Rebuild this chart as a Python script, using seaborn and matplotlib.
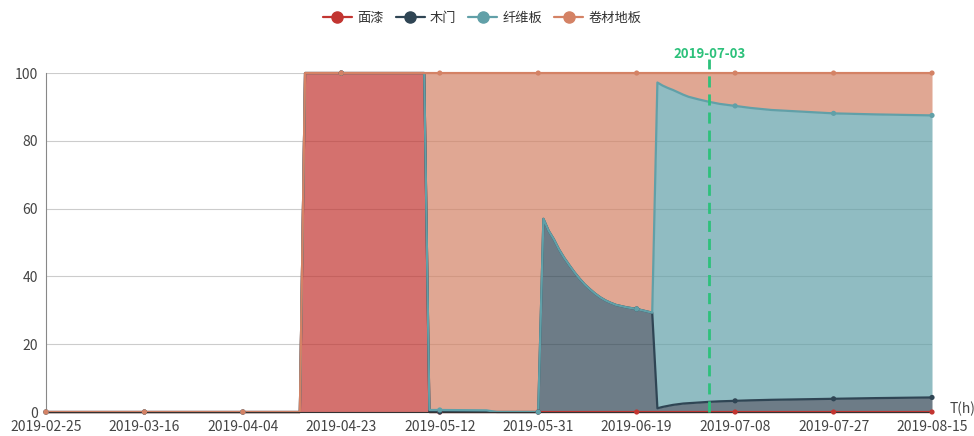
import matplotlib.pyplot as plt
import numpy as np
import pandas as pd
import seaborn as sns
from matplotlib.lines import Line2D

dates = ["2019-02-25", "2019-03-16", "2019-04-04", "2019-04-15", "2019-04-16",
         "2019-04-23", "2019-05-09", "2019-05-10", "2019-05-12", "2019-05-21",
         "2019-05-23", "2019-05-31",
         "2019-06-01", "2019-06-02", "2019-06-03", "2019-06-04", "2019-06-05",
         "2019-06-06", "2019-06-07", "2019-06-08", "2019-06-09", "2019-06-10",
         "2019-06-11", "2019-06-12", "2019-06-13", "2019-06-14", "2019-06-15",
         "2019-06-17", "2019-06-19", "2019-06-22",
         "2019-06-23", "2019-06-24", "2019-06-25", "2019-06-26", "2019-06-27",
         "2019-06-28", "2019-06-29", "2019-07-01", "2019-07-03", "2019-07-05",
         "2019-07-08", "2019-07-11", "2019-07-15", "2019-07-21", "2019-07-27",
         "2019-08-04", "2019-08-15"]

mianqi = [0, 0, 0, 0, 100, 100, 100, 0, 0, 0, 0, 0,
          0, 0, 0, 0, 0, 0, 0, 0, 0, 0, 0, 0, 0, 0, 0, 0, 0, 0,
          0, 0, 0, 0, 0, 0, 0, 0, 0, 0, 0, 0, 0, 0, 0, 0, 0]
mumen = [0, 0, 0, 0, 0, 0, 0, 0, 0, 0, 0, 0,
         57, 53.5, 51, 48, 45.5, 43.3, 41.2, 39.3, 37.6, 36.2, 34.9, 33.8,
         32.9, 32.2, 31.6, 30.9, 30.4, 29.3,
         1.1, 1.5, 1.8, 2.1, 2.3, 2.5, 2.6, 2.8, 3.0, 3.15, 3.3, 3.45, 3.6,
         3.75, 3.9, 4.1, 4.3]
xianweiban = [0, 0, 0, 0, 0, 0, 0, 0.6, 0.6, 0.5, 0, 0,
              0, 0, 0, 0, 0, 0, 0, 0, 0, 0, 0, 0, 0, 0, 0, 0, 0, 0,
              96.1, 94.8, 93.8, 92.9, 92.0, 91.1, 90.4, 89.4, 88.5, 87.75, 87.0,
              86.25, 85.5, 84.85, 84.2, 83.7, 83.2]
juancai = [0, 0, 0, 0, 0, 0, 0, 99.4, 99.4, 99.5, 100, 100,
           43, 46.5, 49, 52, 54.5, 56.7, 58.8, 60.7, 62.4, 63.8, 65.1, 66.2,
           67.1, 67.8, 68.4, 69.1, 69.6, 70.7,
           2.8, 3.7, 4.4, 5.0, 5.7, 6.4, 7.0, 7.8, 8.5, 9.1, 9.7, 10.3, 10.9,
           11.4, 11.9, 12.2, 12.5]

names = ["面漆", "木门", "纤维板", "卷材地板"]
colors = ["#c23531", "#2f4554", "#61a0a8", "#d48265"]
tick_dates = ["2019-02-25", "2019-03-16", "2019-04-04", "2019-04-23", "2019-05-12",
              "2019-05-31", "2019-06-19", "2019-07-08", "2019-07-27", "2019-08-15"]
mark_date = "2019-07-03"

sns.set_style("white")
plt.rcParams["font.family"] = ["Noto Sans CJK SC", "DejaVu Sans"]

x = pd.to_datetime(dates)
ticks = pd.to_datetime(tick_dates)
series = np.array([mianqi, mumen, xianweiban, juancai], dtype=float)
tops = np.cumsum(series, axis=0)
bottoms = np.vstack([np.zeros(len(dates)), tops[:-1]])
dot_idx = [dates.index(d) for d in tick_dates]

fig = plt.figure(figsize=(9.74, 4.36), dpi=100)
ax = fig.add_axes([0.0472, 0.055, 0.9097, 0.7775])

for i in range(4):
    ax.fill_between(x, bottoms[i], tops[i], color=colors[i], alpha=0.7, lw=0)
    sns.lineplot(x=x, y=tops[i], color=colors[i], lw=1.6, ax=ax,
                 legend=False, clip_on=False)
    sns.scatterplot(x=x[dot_idx], y=tops[i][dot_idx], color=colors[i], s=14,
                    edgecolor="none", ax=ax, legend=False, clip_on=False, zorder=5)

ax.set_xlim(x[0], x[-1])
ax.set_ylim(0, 100)
ax.set_xticks(ticks)
ax.set_xticklabels(tick_dates)
ax.set_yticks([0, 20, 40, 60, 80, 100])
ax.set_xlabel("")
ax.set_ylabel("")
ax.tick_params(axis="both", labelsize=10, labelcolor="#444444", color="#333333",
               length=4, width=0.8, pad=2)
ax.grid(axis="y", color="#cccccc", lw=0.8)
ax.set_axisbelow(True)
for s in ["top", "right"]:
    ax.spines[s].set_visible(False)
ax.spines["left"].set_color("#888888")
ax.spines["bottom"].set_color("#333333")

md = pd.to_datetime(mark_date)
ax.axvline(md, ymin=0, ymax=1.04, color="#2dc17b", lw=2, ls=(0, (4, 2.5)),
           clip_on=False, zorder=6)
ax.text(md, 103.5, mark_date, color="#2dc17b", fontsize=9.5, fontweight="bold",
        ha="center", va="bottom")
ax.text(1.02, 0.01, "T(h)", transform=ax.transAxes, fontsize=10, color="#444444",
        ha="left", va="center")

handles = [Line2D([0], [0], color=c, lw=1.6, marker="o", markersize=8) for c in colors]
fig.legend(handles, names, loc="upper center", bbox_to_anchor=(0.495, 1.0), ncol=4,
           frameon=False, fontsize=9.5, handlelength=2.2, handletextpad=0.4,
           columnspacing=0.9, labelcolor="#333333")

fig.savefig("out.png", dpi=100)
